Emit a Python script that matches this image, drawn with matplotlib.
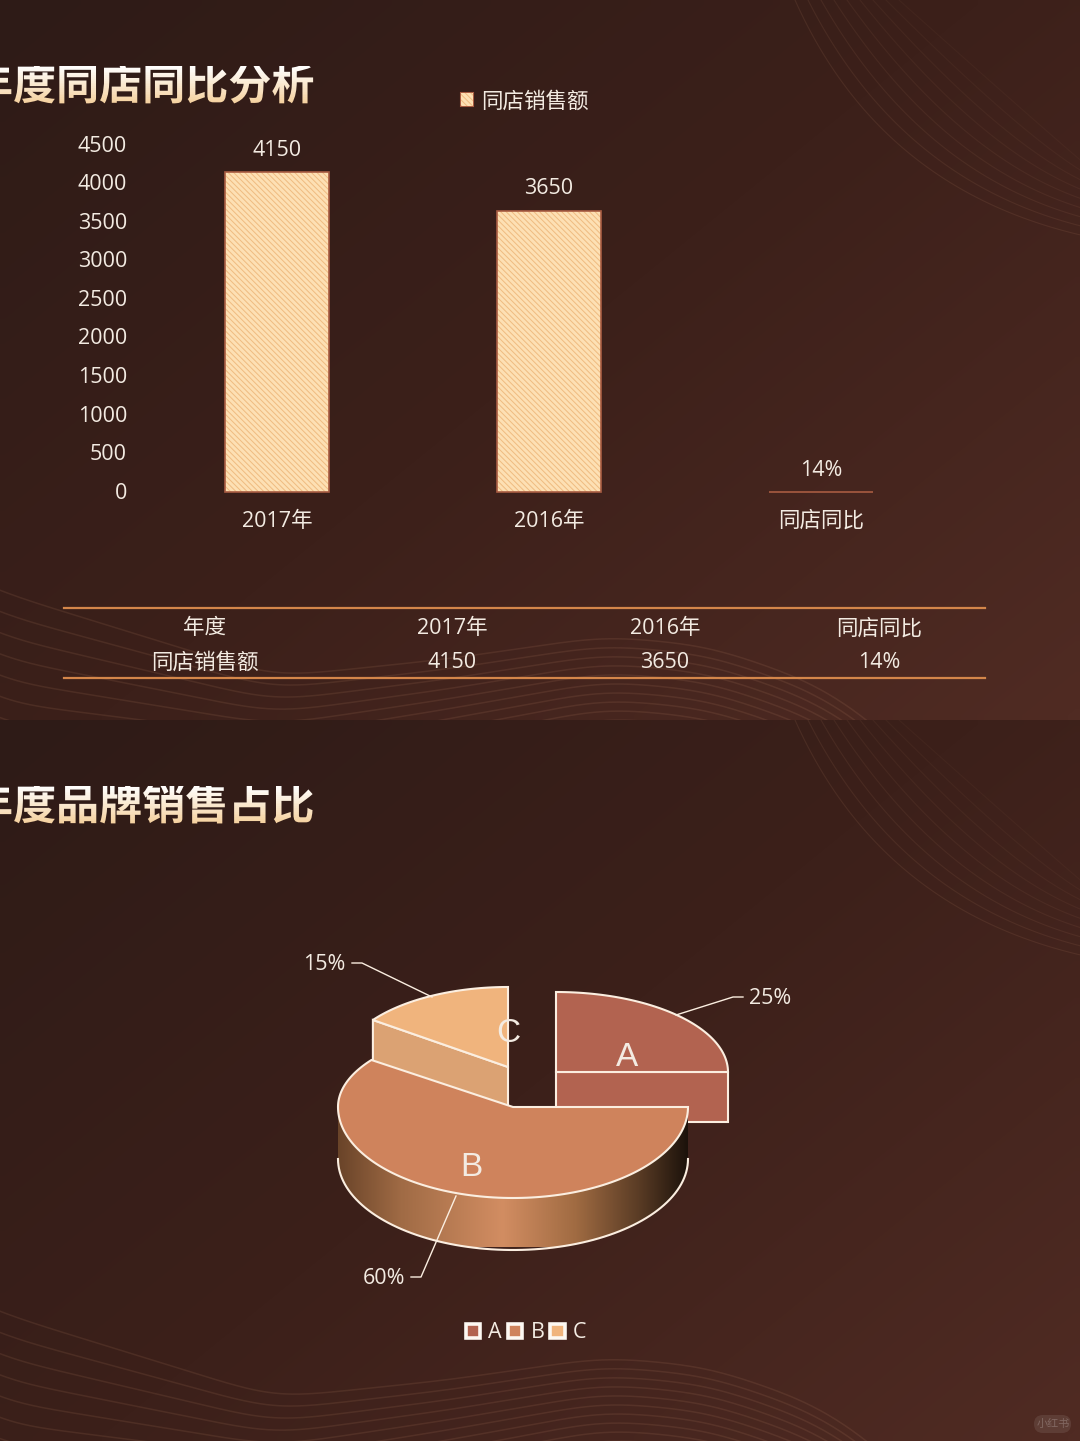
import matplotlib
matplotlib.use("Agg")
import matplotlib.pyplot as plt
import numpy as np
from matplotlib.patches import Polygon, Patch, Rectangle, FancyBboxPatch
from matplotlib.patheffects import AbstractPathEffect, withStroke
from matplotlib.transforms import Bbox, ScaledTranslation
from matplotlib.colors import LinearSegmentedColormap

plt.rcParams['font.family'] = ['Open Sans', 'Noto Sans CJK SC', 'DejaVu Sans']
plt.rcParams['hatch.linewidth'] = 0.7

W, H = 1080, 1441

# Data
bar_cats = ['2017年', '2016年', '同店同比']
bar_vals = [4150, 3650, 0.14]
bar_labels = ['4150', '3650', '14%']
y_ticks = [0, 500, 1000, 1500, 2000, 2500, 3000, 3500, 4000, 4500]

table_head = ['年度', '2017年', '2016年', '同店同比']
table_row = ['同店销售额', '4150', '3650', '14%']

pie_names = ['A', 'B', 'C']
pie_shares = [25, 60, 15]
pie_pct = ['25%', '60%', '15%']

TXT = '#f3ebe2'
EDGE = '#fbeee0'
COL_A = '#b26350'
COL_B = '#cf835c'
COL_C = '#f0b47d'
COL_C_SIDE = '#dba273'


class GradientFill(AbstractPathEffect):
    """Fills glyphs with a vertical gradient, strip by strip."""

    def __init__(self, top, bottom, y0, y1, n=24):
        super().__init__()
        self.cmap = LinearSegmentedColormap.from_list('g', [bottom, top])
        self.y0, self.y1, self.n = y0, y1, n

    def draw_path(self, renderer, gc, tpath, affine, rgbFace=None):
        edges = np.linspace(self.y0, self.y1, self.n + 1)
        for i in range(self.n):
            gc0 = renderer.new_gc()
            gc0.copy_properties(gc)
            gc0.set_clip_rectangle(Bbox([[0, edges[i]], [W, edges[i + 1]]]))
            renderer.draw_path(gc0, tpath, affine, self.cmap((i + 0.5) / self.n))
            gc0.restore()


def panel_background(ax, y0, y1):
    # diagonal dark-to-warm gradient for one slide
    xx, yy = np.meshgrid(np.linspace(0, 1, 120), np.linspace(0, 1, 80))
    t = np.clip(0.55 * xx + 0.45 * yy, 0, 1)
    cmap = LinearSegmentedColormap.from_list('bg', ['#2e1b17', '#3c201a', '#502b23'])
    ax.imshow(t, extent=(0, W, y1, y0), cmap=cmap, vmin=0, vmax=1,
              aspect='auto', zorder=0, interpolation='bilinear')
    clip = Rectangle((0, y0), W, y1 - y0, transform=ax.transData)

    # faint wave lines along the bottom of the slide
    x = np.arange(-200, 1300, 2.0)
    kernel = np.exp(-0.5 * (np.arange(-40, 41) / 15.0) ** 2)
    kernel /= kernel.sum()
    for k in range(10):
        yb = np.interp(x, [-200, 0, 275, 448, 606, 709, 813, 871, 1300],
                       [-220 + 16 * k, -128 + 22 * k, -43 + 12 * k, -61 + 10 * k, -84 + 9 * k,
                        -74 + 9 * k, -38 + 9 * k, 0 + 9 * k, 420])
        yb = np.convolve(yb, kernel, mode='same')
        keep = (x > -60) & (x < 1200)
        line, = ax.plot(x[keep], y1 + yb[keep], color='#e0a27c', lw=1.1, alpha=0.11, zorder=1)
        line.set_clip_path(clip)

    # fan of thin curves at the top right
    t = np.linspace(0, 1, 80)[:, None]
    for k in range(9):
        p0 = np.array([795 + 13 * k, 0.0])
        p1 = np.array([880 + 20 * k, 190.0 - 8 * k])
        p2 = np.array([1085, 236.0 - 9 * k])
        pts = (1 - t) ** 2 * p0 + 2 * t * (1 - t) * p1 + t ** 2 * p2
        line, = ax.plot(pts[:, 0], y0 + pts[:, 1], color='#e0a27c', lw=0.8,
                        alpha=0.10 * (1 - k / 14), zorder=1)
        line.set_clip_path(clip)


def slice_pt(cx, cy, ang, rx, ry_back, ry_front):
    # angle in degrees, clockwise from 12 o'clock
    a = np.radians(ang)
    c = np.cos(a)
    ry = np.where(c > 0, ry_back, ry_front)
    return np.column_stack([cx + rx * np.sin(a), cy - ry * c])


def draw_pie(ax):
    angs = np.cumsum([0] + [s * 3.6 for s in pie_shares])
    depth = 50
    lw = 1.5

    # A, pulled out to the upper right
    cx, cy, rx = 556, 1072, 172
    arc = slice_pt(cx, cy, np.linspace(angs[0], angs[1], 60), rx, 80, 91)
    ax.add_patch(Polygon([(cx, cy), arc[-1], arc[-1] + [0, depth], (cx, cy + depth)],
                         fc=COL_A, ec=EDGE, lw=lw, zorder=3))
    ax.add_patch(Polygon(np.vstack([[cx, cy], arc]), fc=COL_A, ec=EDGE, lw=lw, zorder=3))

    # C, pulled out to the top
    cx, cy, rx = 508, 1067, 167
    arc = slice_pt(cx, cy, np.linspace(angs[2], angs[3], 40), rx, 80, 91)
    ax.add_patch(Polygon([(cx, cy), arc[0], arc[0] + [0, depth], (cx, cy + depth)],
                         fc=COL_C_SIDE, ec=EDGE, lw=lw, zorder=3))
    ax.add_patch(Polygon(np.vstack([[cx, cy], arc]), fc=COL_C, ec=EDGE, lw=lw, zorder=3))

    # B, the front wedge, side wall first
    cx, cy, rx = 513, 1107, 175
    depth = 52
    front = slice_pt(cx, cy, np.linspace(90, 270, 90), rx, 80, 91)
    wall = np.vstack([front, (front + [0, depth])[::-1]])
    poly = Polygon(wall, fc='none', ec='none', zorder=4)
    ax.add_patch(poly)
    # runs from the right edge of the wall to the left edge
    grad = LinearSegmentedColormap.from_list(
        'side', [(0, '#1c120b'), (0.14, '#5a3c25'), (0.32, '#a06b42'), (0.53, '#d28d62'),
                 (0.82, '#a06b45'), (1, '#6a4429')])
    img = ax.imshow(np.linspace(0, 1, 256)[None, :], extent=(cx + rx, cx - rx, cy + 140, cy),
                    cmap=grad, aspect='auto', zorder=4)
    img.set_clip_path(poly)
    ax.plot(*(front + [0, depth]).T, color=EDGE, lw=lw, zorder=5)

    arc = slice_pt(cx, cy, np.linspace(angs[1], angs[2], 140), rx, 80, 91)
    ax.add_patch(Polygon(np.vstack([[cx, cy], arc]), fc=COL_B, ec=EDGE, lw=lw, zorder=6))

    # names on the slices
    name_xy = [(627, 1057), (471, 1168), (508, 1034)]
    for name, (x, y) in zip(pie_names, name_xy):
        ax.text(x, y, name, color=TXT, fontsize=24, family='Liberation Sans',
                ha='center', va='center', zorder=8)

    # percent labels with leader lines
    pct_xy = [(770, 998), (384, 1278), (324, 964)]
    leaders = [[(743, 997), (733, 997), (676, 1015)],
               [(411, 1277), (421, 1277), (456, 1196)],
               [(352, 963), (362, 963), (432, 997)]]
    for lab, (x, y), pts in zip(pie_pct, pct_xy, leaders):
        ax.text(x, y, lab, color=TXT, fontsize=15.5, ha='center', va='center', zorder=8)
        ax.plot(*zip(*pts), color=EDGE, lw=1, zorder=7)


fig = plt.figure(figsize=(W / 100, H / 100), dpi=100)

# Full-figure pixel axes for the backgrounds, titles, table and pie
bg = fig.add_axes([0, 0, 1, 1], zorder=0)
panel_background(bg, 0, 720)
panel_background(bg, 720, H)
bg.set_xlim(0, W)
bg.set_ylim(H, 0)
bg.axis('off')

bg.text(-30, 88, '年度同店同比分析', fontsize=31, fontweight='bold', ha='left', va='center',
        path_effects=[GradientFill('#ffffff', '#f3c88c', H - 110, H - 66)], zorder=5)
bg.text(-30, 808, '年度品牌销售占比', fontsize=31, fontweight='bold', ha='left', va='center',
        path_effects=[GradientFill('#ffffff', '#f3c88c', H - 830, H - 786)], zorder=5)

# Table
col_x = [205, 452, 665, 879]
for x, a, b in zip(col_x, table_head, table_row):
    bg.text(x, 629, a, color=TXT, fontsize=15.5, ha='center', va='center', zorder=5)
    bg.text(x, 663, b, color=TXT, fontsize=15.5, ha='center', va='center', zorder=5)
bg.plot([64, 985], [607.5, 607.5], color='#d4864a', lw=1.6, zorder=5)
bg.plot([64, 985], [677.5, 677.5], color='#d4864a', lw=1.6, zorder=5)

draw_pie(bg)
bg.set_xlim(0, W)
bg.set_ylim(H, 0)

# Pie legend
pie_handles = [Patch(fc=c, ec='#fdf8f2', lw=2.6, joinstyle='miter') for c in (COL_A, COL_B, COL_C)]
bg.legend(pie_handles, pie_names, loc='center', bbox_to_anchor=(526 / W, (H - 1333) / H),
          bbox_transform=fig.transFigure, ncol=3, frameon=False, fontsize=15.5,
          labelcolor=TXT, handlelength=0.68, handleheight=0.68, handletextpad=0.38,
          columnspacing=0.26, borderpad=0)

# Watermark
bg.add_patch(FancyBboxPatch((1034, 1415), 37, 18, boxstyle='round,pad=0,rounding_size=9',
                            fc='#ffffff', ec='none', alpha=0.09, zorder=5))
bg.text(1053, 1424, '小红书', color='#ffffff', alpha=0.22, fontsize=8,
        ha='center', va='center', zorder=6)

# Bar chart on its own axes
ax = fig.add_axes([141 / W, (H - 492) / H, 816 / W, 347 / H], zorder=2)
ax.patch.set_alpha(0)
xs = np.arange(len(bar_cats))
ax.bar(xs, bar_vals, width=0.382, color='#fde0b4', edgecolor='#efbb80',
       hatch='\\\\\\\\\\\\', linewidth=0, label='同店销售额')
bars = ax.bar(xs, bar_vals, width=0.382, color='none', edgecolor='#a85c42', linewidth=1.2,
              clip_on=False)
ax.bar_label(bars, labels=bar_labels, padding=8, color=TXT, fontsize=15.5)
ax.set_xlim(-0.5, 2.5)
ax.set_ylim(0, 4500)
ax.set_yticks(y_ticks)
ax.set_xticks(xs, bar_cats)
ax.tick_params(axis='both', length=0, labelsize=15.5, labelcolor=TXT)
ax.tick_params(axis='y', pad=10)
ax.tick_params(axis='x', pad=13.5)
nudge = ScaledTranslation(0, 1 / 72, fig.dpi_scale_trans)
for lab in ax.get_yticklabels():
    lab.set_transform(lab.get_transform() + nudge)
for s in ax.spines.values():
    s.set_visible(False)
leg = ax.legend(loc='center left', bbox_to_anchor=(461 / W, (H - 102) / H),
                bbox_transform=fig.transFigure, frameon=False, fontsize=15.5, labelcolor=TXT,
                handlelength=0.56, handleheight=0.56, handletextpad=0.36, borderpad=0,
                borderaxespad=0)
leg.legend_handles[0].set_path_effects([withStroke(linewidth=1.5, foreground='#a85c42')])

fig.savefig('out.png', dpi=100)
